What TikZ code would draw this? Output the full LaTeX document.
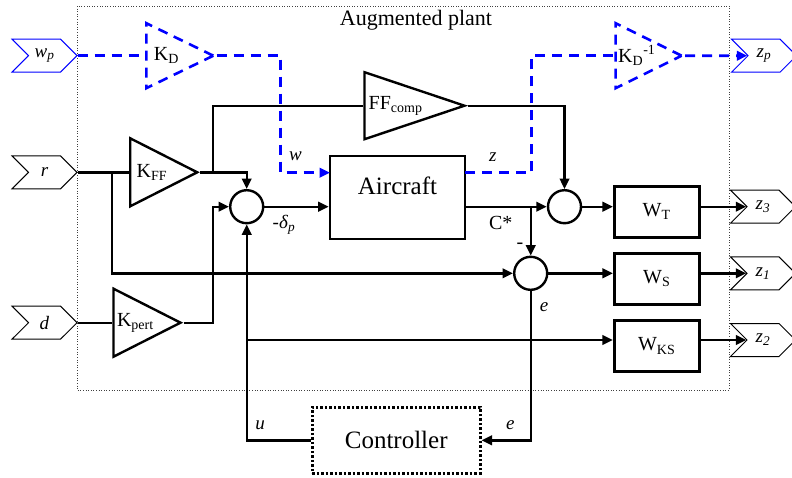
\documentclass[tikz,border=0pt]{standalone}
\usepackage{fontspec}
\setmainfont{Liberation Serif}
\usetikzlibrary{arrows.meta,shapes.geometric,shapes.symbols}

\newcommand{\sig}[2]{\textit{#1}\textsubscript{\textit{#2}}}

\tikzset{
  gain/.style={draw, line width=2.4pt, isosceles triangle, isosceles triangle stretches,
    shape border rotate=0, inner sep=0pt, anchor=west},
  dgain/.style={gain, draw=blue, line width=2.6pt, dash pattern=on 10pt off 7pt},
  block/.style={draw, line width=2.6pt, minimum width=85pt, minimum height=51pt, inner sep=0pt},
  sumnode/.style={draw, circle, line width=2.4pt, minimum size=33pt, inner sep=0pt},
  port/.style={draw, line width=1pt, signal, signal to=east, signal from=west,
    minimum width=65pt, minimum height=33pt, inner sep=0pt, font=\fontsize{19}{22}\selectfont},
  wire/.style={line width=2.4pt},
  arrow/.style={-{Triangle[length=10.5pt,width=9.5pt]}},
  dwire/.style={blue, line width=2.6pt, dash pattern=on 10pt off 7pt},
  siglabel/.style={font=\fontsize{19}{22}\selectfont},
}

\begin{document}
\begin{tikzpicture}[x=1pt, y=-1pt, every node/.style={font=\fontsize{20}{24}\selectfont}]
  \path[use as bounding box, clip] (0,0) rectangle (792,477);

  % augmented plant frame
  \draw[dotted, line width=0.6pt, black!75] (77,6) rectangle (729,390);
  \node[font=\fontsize{22}{26}\selectfont] (title) at (416,20) {Augmented plant};

  % inputs and outputs
  \node[port, draw=blue] (wp) at (44.5,55.7) {\sig{w}{p}};
  \node[port] (r) at (44.5,172.3) {\textit{r}};
  \node[port] (d) at (44.5,322.7) {\textit{d}};
  \node[port, draw=blue] (zp) at (764,55.7) {\sig{z}{p}};
  \node[port] (z3) at (763,206.7) {\sig{z}{3}};
  \node[port] (z1) at (763,273.3) {\sig{z}{1}};
  \node[port] (z2) at (763,340) {\sig{z}{2}};

  % gains (width = base, height = base-to-apex)
  \node[dgain, minimum width=65pt, minimum height=67pt] (kd) at (145,55.7) {K\textsubscript{D}};
  \node[dgain, minimum width=65pt, minimum height=66pt] (kdi) at (614.3,55.7) {K\textsubscript{D}\textsuperscript{-1}};
  \node[gain, minimum width=67pt, minimum height=100pt] (ffc) at (363.3,105.7) {FF\textsubscript{comp}};
  \node[gain, minimum width=68pt, minimum height=67pt] (kff) at (129,172.3) {K\textsubscript{FF}};
  \node[gain, minimum width=68pt, minimum height=67pt] (kp) at (112.3,322.7) {K\textsubscript{pert}};

  % plant, sums, weights, controller
  \node[block, minimum width=135pt, minimum height=83pt] (ac) at (397.5,197.5) {};
  \node[font=\fontsize{25}{30}\selectfont] (aclabel) at (397.5,185.5) {Aircraft};
  \node[sumnode] (s1) at (246.7,206.7) {};
  \node[sumnode] (s2) at (530.7,273.3) {};
  \node[sumnode] (s3) at (564.5,206.7) {};
  \node[block] (wt) at (656.7,211.7) {W\textsubscript{T}};
  \node[block] (ws) at (656.7,278.7) {W\textsubscript{S}};
  \node[block] (wks) at (656.7,346) {W\textsubscript{KS}};
  \node[draw, line width=2.6pt, dash pattern=on 2.5pt off 2pt, minimum width=168pt,
    minimum height=66pt, font=\fontsize{25}{30}\selectfont] (ctrl) at (396.2,440.3) {Controller};

  % bends and branch points
  \coordinate (acw) at (330,172.7);
  \coordinate (acz) at (465,172.7);
  \coordinate (wbend) at (280.7,172.7);
  \coordinate (zbend) at (531.7,172.7);
  \coordinate (rbr) at (112,172.3);
  \coordinate (ffbr) at (213,172.3);
  \coordinate (pbend) at (213,206.7);
  \coordinate (ubr) at (246.7,340);

  % performance channel
  \draw[dwire] (wp.east) -- (kd.west);
  \draw[dwire, arrow] (kd.apex) -| (wbend) -- (acw);
  \draw[dwire] (acz) -- (zbend) |- (kdi.west);
  \draw[dwire, arrow] (kdi.apex) -- (zp.west);

  % signal lines
  \draw[wire] (r.east) -- (kff.west);
  \draw[wire, arrow] (rbr) |- (s2.west);
  \draw[wire, arrow] (kff.apex) -| (s1.north);
  \draw[wire] (ffbr) |- (ffc.west);
  \draw[wire] (d.east) -- (kp.west);
  \draw[wire, arrow] (kp.apex) -| (pbend) -- (s1.west);
  \draw[wire, arrow] (s1.east) -- (s1.east -| ac.west);
  \draw[wire, arrow] (s3.west -| ac.east) -- (s3.west);
  \draw[wire, arrow] (s2.north |- s3.west) -- (s2.north);
  \draw[wire, arrow] (ffc.apex) -| (s3.north);
  \draw[wire, arrow] (s3.east) -- (s3.east -| wt.west);
  \draw[wire, arrow] (s2.east) -- (s2.east -| ws.west);
  \draw[wire, arrow] (ubr) -- (ubr -| wks.west);
  \draw[wire, arrow] (z3.west -| wt.east) -- (z3.west);
  \draw[wire, arrow] (z1.west -| ws.east) -- (z1.west);
  \draw[wire, arrow] (z2.west -| wks.east) -- (z2.west);
  \draw[wire, arrow] (s2.south) |- (ctrl.east);
  \draw[wire, arrow] (ctrl.west) -| (s1.south);

  % signal labels
  \node[siglabel] (lw) at (295.5,156.7) {\textit{w}};
  \node[siglabel] (lz) at (492.7,156.7) {\textit{z}};
  \node[siglabel] (ldp) at (284,224.7) {-\textit{δ}\textsubscript{\textit{p}}};
  \node (lc) at (500.8,222.5) {C*};
  \node (lminus) at (520,246) {-};
  \node[siglabel] (le1) at (544,306.7) {\textit{e}};
  \node[siglabel] (lu) at (260,425) {\textit{u}};
  \node[siglabel] (le2) at (510.3,425) {\textit{e}};
\end{tikzpicture}
\end{document}
